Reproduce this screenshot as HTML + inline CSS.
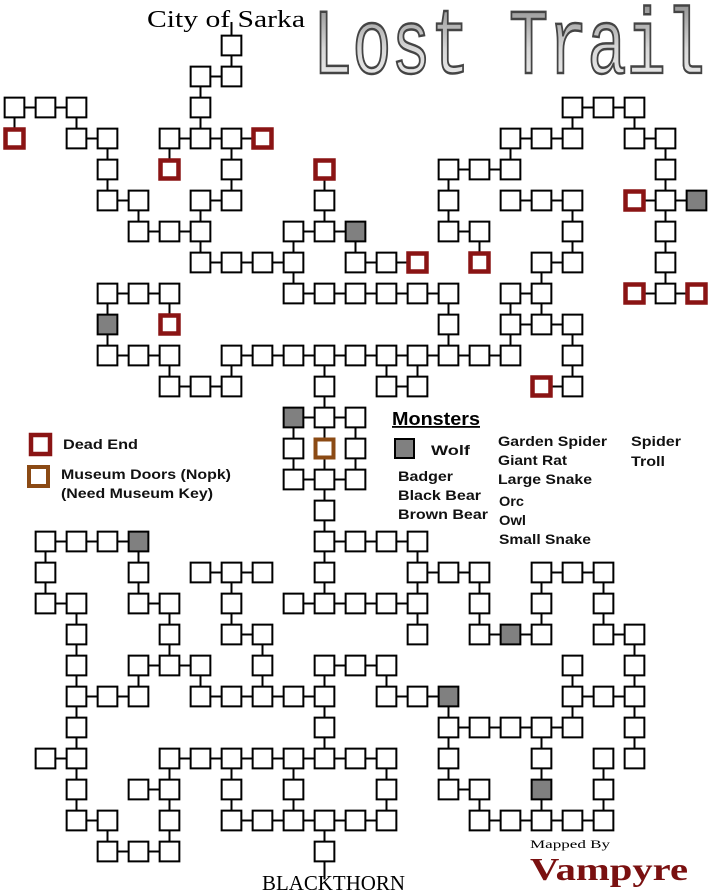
<!DOCTYPE html>
<html><head><meta charset="utf-8"><style>
html,body{margin:0;padding:0;background:#fff;width:711px;height:894px;overflow:hidden}
svg{display:block}
.t{font-family:"Liberation Sans",sans-serif;font-weight:bold;font-size:14px;fill:#111}
</style></head><body>
<svg width="711" height="894" viewBox="0 0 711 894" xmlns="http://www.w3.org/2000/svg">
<defs>
<linearGradient id="lg" x1="0" y1="0" x2="0" y2="1"><stop offset="0" stop-color="#8a8a8a"/><stop offset="0.5" stop-color="#d8d8d8"/><stop offset="1" stop-color="#f4f4f4"/></linearGradient>
</defs>
<rect width="711" height="894" fill="#fff"/>
<g transform="translate(14.5,45.5) scale(31)">
<defs>
<rect id="n" x="-0.318" y="-0.318" width="0.636" height="0.636" fill="#fff" stroke="#000" stroke-width="2" vector-effect="non-scaling-stroke"/>
<rect id="g" x="-0.318" y="-0.318" width="0.636" height="0.636" fill="#808080" stroke="#000" stroke-width="2" vector-effect="non-scaling-stroke"/>
<rect id="d" x="-0.29" y="-0.29" width="0.58" height="0.58" fill="#fff" stroke="#8a1414" stroke-width="4.5" vector-effect="non-scaling-stroke"/>
<rect id="m" x="-0.29" y="-0.29" width="0.58" height="0.58" fill="#fff" stroke="#8b4a14" stroke-width="4" vector-effect="non-scaling-stroke"/>
</defs>
<path fill="none" stroke="#000" stroke-width="2" vector-effect="non-scaling-stroke" d="M6 1H7 M0 2H2 M18 2H20 M2 3H3 M5 3H8 M16 3H18 M20 3H21 M14 4H16 M3 5H4 M6 5H7 M16 5H18 M20 5H22 M4 6H6 M9 6H11 M14 6H15 M6 7H9 M11 7H13 M17 7H18 M3 8H5 M9 8H14 M16 8H17 M20 8H22 M16 9H18 M3 10H5 M7 10H16 M5 11H7 M12 11H13 M17 11H18 M9 12H11 M9 14H11 M1 16H4 M10 16H13 M6 17H8 M13 17H15 M17 17H19 M1 18H2 M4 18H5 M9 18H13 M7 19H8 M15 19H17 M19 19H20 M4 20H6 M10 20H12 M2 21H4 M6 21H10 M12 21H14 M18 21H20 M14 22H18 M1 23H2 M5 23H12 M4 24H5 M14 24H15 M2 25H3 M7 25H12 M15 25H19 M3 26H5
M0 2V3 M1 16V18 M2 2V3 M2 18V25 M3 3V5 M3 8V10 M3 25V26 M4 5V6 M4 16V18 M4 20V21 M5 3V4 M5 8V9 M5 10V11 M5 18V20 M5 23V26 M6 1V3 M6 5V7 M6 20V21 M7 -0.76V1 M7 3V5 M7 10V11 M7 17V19 M7 23V25 M8 19V21 M9 6V8 M9 12V14 M9 23V25 M10 4V6 M10 10V18 M10 20V23 M10 25V26.9 M11 6V7 M11 12V14 M12 10V11 M12 20V21 M12 23V25 M13 10V11 M13 16V19 M14 4V6 M14 8V10 M14 21V24 M15 6V7 M15 17V19 M15 24V25 M16 3V4 M16 8V10 M17 7V9 M17 17V19 M17 22V25 M18 2V3 M18 5V7 M18 9V11 M18 20V22 M19 17V19 M19 23V25 M20 2V3 M20 19V23 M21 3V8"/>
<use href="#n" x="7" y="0"/>
<use href="#n" x="6" y="1"/><use href="#n" x="7" y="1"/>
<use href="#n" x="0" y="2"/><use href="#n" x="1" y="2"/><use href="#n" x="2" y="2"/><use href="#n" x="6" y="2"/><use href="#n" x="18" y="2"/><use href="#n" x="19" y="2"/><use href="#n" x="20" y="2"/>
<use href="#d" x="0" y="3"/><use href="#n" x="2" y="3"/><use href="#n" x="3" y="3"/><use href="#n" x="5" y="3"/><use href="#n" x="6" y="3"/><use href="#n" x="7" y="3"/><use href="#d" x="8" y="3"/><use href="#n" x="16" y="3"/><use href="#n" x="17" y="3"/><use href="#n" x="18" y="3"/><use href="#n" x="20" y="3"/><use href="#n" x="21" y="3"/>
<use href="#n" x="3" y="4"/><use href="#d" x="5" y="4"/><use href="#n" x="7" y="4"/><use href="#d" x="10" y="4"/><use href="#n" x="14" y="4"/><use href="#n" x="15" y="4"/><use href="#n" x="16" y="4"/><use href="#n" x="21" y="4"/>
<use href="#n" x="3" y="5"/><use href="#n" x="4" y="5"/><use href="#n" x="6" y="5"/><use href="#n" x="7" y="5"/><use href="#n" x="10" y="5"/><use href="#n" x="14" y="5"/><use href="#n" x="16" y="5"/><use href="#n" x="17" y="5"/><use href="#n" x="18" y="5"/><use href="#d" x="20" y="5"/><use href="#n" x="21" y="5"/><use href="#g" x="22" y="5"/>
<use href="#n" x="4" y="6"/><use href="#n" x="5" y="6"/><use href="#n" x="6" y="6"/><use href="#n" x="9" y="6"/><use href="#n" x="10" y="6"/><use href="#g" x="11" y="6"/><use href="#n" x="14" y="6"/><use href="#n" x="15" y="6"/><use href="#n" x="18" y="6"/><use href="#n" x="21" y="6"/>
<use href="#n" x="6" y="7"/><use href="#n" x="7" y="7"/><use href="#n" x="8" y="7"/><use href="#n" x="9" y="7"/><use href="#n" x="11" y="7"/><use href="#n" x="12" y="7"/><use href="#d" x="13" y="7"/><use href="#d" x="15" y="7"/><use href="#n" x="17" y="7"/><use href="#n" x="18" y="7"/><use href="#n" x="21" y="7"/>
<use href="#n" x="3" y="8"/><use href="#n" x="4" y="8"/><use href="#n" x="5" y="8"/><use href="#n" x="9" y="8"/><use href="#n" x="10" y="8"/><use href="#n" x="11" y="8"/><use href="#n" x="12" y="8"/><use href="#n" x="13" y="8"/><use href="#n" x="14" y="8"/><use href="#n" x="16" y="8"/><use href="#n" x="17" y="8"/><use href="#d" x="20" y="8"/><use href="#n" x="21" y="8"/><use href="#d" x="22" y="8"/>
<use href="#g" x="3" y="9"/><use href="#d" x="5" y="9"/><use href="#n" x="14" y="9"/><use href="#n" x="16" y="9"/><use href="#n" x="17" y="9"/><use href="#n" x="18" y="9"/>
<use href="#n" x="3" y="10"/><use href="#n" x="4" y="10"/><use href="#n" x="5" y="10"/><use href="#n" x="7" y="10"/><use href="#n" x="8" y="10"/><use href="#n" x="9" y="10"/><use href="#n" x="10" y="10"/><use href="#n" x="11" y="10"/><use href="#n" x="12" y="10"/><use href="#n" x="13" y="10"/><use href="#n" x="14" y="10"/><use href="#n" x="15" y="10"/><use href="#n" x="16" y="10"/><use href="#n" x="18" y="10"/>
<use href="#n" x="5" y="11"/><use href="#n" x="6" y="11"/><use href="#n" x="7" y="11"/><use href="#n" x="10" y="11"/><use href="#n" x="12" y="11"/><use href="#n" x="13" y="11"/><use href="#d" x="17" y="11"/><use href="#n" x="18" y="11"/>
<use href="#g" x="9" y="12"/><use href="#n" x="10" y="12"/><use href="#n" x="11" y="12"/>
<use href="#n" x="9" y="13"/><use href="#m" x="10" y="13"/><use href="#n" x="11" y="13"/>
<use href="#n" x="9" y="14"/><use href="#n" x="10" y="14"/><use href="#n" x="11" y="14"/>
<use href="#n" x="10" y="15"/>
<use href="#n" x="1" y="16"/><use href="#n" x="2" y="16"/><use href="#n" x="3" y="16"/><use href="#g" x="4" y="16"/><use href="#n" x="10" y="16"/><use href="#n" x="11" y="16"/><use href="#n" x="12" y="16"/><use href="#n" x="13" y="16"/>
<use href="#n" x="1" y="17"/><use href="#n" x="4" y="17"/><use href="#n" x="6" y="17"/><use href="#n" x="7" y="17"/><use href="#n" x="8" y="17"/><use href="#n" x="10" y="17"/><use href="#n" x="13" y="17"/><use href="#n" x="14" y="17"/><use href="#n" x="15" y="17"/><use href="#n" x="17" y="17"/><use href="#n" x="18" y="17"/><use href="#n" x="19" y="17"/>
<use href="#n" x="1" y="18"/><use href="#n" x="2" y="18"/><use href="#n" x="4" y="18"/><use href="#n" x="5" y="18"/><use href="#n" x="7" y="18"/><use href="#n" x="9" y="18"/><use href="#n" x="10" y="18"/><use href="#n" x="11" y="18"/><use href="#n" x="12" y="18"/><use href="#n" x="13" y="18"/><use href="#n" x="15" y="18"/><use href="#n" x="17" y="18"/><use href="#n" x="19" y="18"/>
<use href="#n" x="2" y="19"/><use href="#n" x="5" y="19"/><use href="#n" x="7" y="19"/><use href="#n" x="8" y="19"/><use href="#n" x="13" y="19"/><use href="#n" x="15" y="19"/><use href="#g" x="16" y="19"/><use href="#n" x="17" y="19"/><use href="#n" x="19" y="19"/><use href="#n" x="20" y="19"/>
<use href="#n" x="2" y="20"/><use href="#n" x="4" y="20"/><use href="#n" x="5" y="20"/><use href="#n" x="6" y="20"/><use href="#n" x="8" y="20"/><use href="#n" x="10" y="20"/><use href="#n" x="11" y="20"/><use href="#n" x="12" y="20"/><use href="#n" x="18" y="20"/><use href="#n" x="20" y="20"/>
<use href="#n" x="2" y="21"/><use href="#n" x="3" y="21"/><use href="#n" x="4" y="21"/><use href="#n" x="6" y="21"/><use href="#n" x="7" y="21"/><use href="#n" x="8" y="21"/><use href="#n" x="9" y="21"/><use href="#n" x="10" y="21"/><use href="#n" x="12" y="21"/><use href="#n" x="13" y="21"/><use href="#g" x="14" y="21"/><use href="#n" x="18" y="21"/><use href="#n" x="19" y="21"/><use href="#n" x="20" y="21"/>
<use href="#n" x="2" y="22"/><use href="#n" x="10" y="22"/><use href="#n" x="14" y="22"/><use href="#n" x="15" y="22"/><use href="#n" x="16" y="22"/><use href="#n" x="17" y="22"/><use href="#n" x="18" y="22"/><use href="#n" x="20" y="22"/>
<use href="#n" x="1" y="23"/><use href="#n" x="2" y="23"/><use href="#n" x="5" y="23"/><use href="#n" x="6" y="23"/><use href="#n" x="7" y="23"/><use href="#n" x="8" y="23"/><use href="#n" x="9" y="23"/><use href="#n" x="10" y="23"/><use href="#n" x="11" y="23"/><use href="#n" x="12" y="23"/><use href="#n" x="14" y="23"/><use href="#n" x="17" y="23"/><use href="#n" x="19" y="23"/><use href="#n" x="20" y="23"/>
<use href="#n" x="2" y="24"/><use href="#n" x="4" y="24"/><use href="#n" x="5" y="24"/><use href="#n" x="7" y="24"/><use href="#n" x="9" y="24"/><use href="#n" x="12" y="24"/><use href="#n" x="14" y="24"/><use href="#n" x="15" y="24"/><use href="#g" x="17" y="24"/><use href="#n" x="19" y="24"/>
<use href="#n" x="2" y="25"/><use href="#n" x="3" y="25"/><use href="#n" x="5" y="25"/><use href="#n" x="7" y="25"/><use href="#n" x="8" y="25"/><use href="#n" x="9" y="25"/><use href="#n" x="10" y="25"/><use href="#n" x="11" y="25"/><use href="#n" x="12" y="25"/><use href="#n" x="15" y="25"/><use href="#n" x="16" y="25"/><use href="#n" x="17" y="25"/><use href="#n" x="18" y="25"/><use href="#n" x="19" y="25"/>
<use href="#n" x="3" y="26"/><use href="#n" x="4" y="26"/><use href="#n" x="5" y="26"/><use href="#n" x="10" y="26"/>
</g>

<text x="147" y="27" font-family="Liberation Serif, serif" font-size="24" textLength="158" lengthAdjust="spacingAndGlyphs" fill="#000">City of Sarka</text>
<g transform="translate(313,73) scale(1,1.55)">
<text x="0" y="0" font-family="Liberation Mono, monospace" font-size="60" textLength="392" lengthAdjust="spacingAndGlyphs" fill="url(#lg)" stroke="#444" stroke-width="1.6">Lost Trail</text>
</g>

<rect x="31" y="435" width="19" height="19" fill="#fff" stroke="#8a1414" stroke-width="4.5"/>
<text class="t" x="63" y="449" textLength="75" lengthAdjust="spacingAndGlyphs">Dead End</text>
<rect x="29" y="467" width="19" height="19" fill="#fff" stroke="#8b4a14" stroke-width="4"/>
<text class="t" x="61" y="479" textLength="170" lengthAdjust="spacingAndGlyphs">Museum Doors (Nopk)</text>
<text class="t" x="61" y="498" textLength="152" lengthAdjust="spacingAndGlyphs">(Need Museum Key)</text>

<text x="392" y="425" font-family="Liberation Sans, sans-serif" font-weight="bold" font-size="18" textLength="88" lengthAdjust="spacingAndGlyphs" text-decoration="underline">Monsters</text>
<rect x="395" y="439" width="19" height="19" fill="#808080" stroke="#000" stroke-width="2"/>
<text class="t" x="431" y="455" textLength="39" lengthAdjust="spacingAndGlyphs">Wolf</text>
<text class="t" x="398" y="481" textLength="55" lengthAdjust="spacingAndGlyphs">Badger</text>
<text class="t" x="398" y="500" textLength="83" lengthAdjust="spacingAndGlyphs">Black Bear</text>
<text class="t" x="398" y="519" textLength="90" lengthAdjust="spacingAndGlyphs">Brown Bear</text>
<text class="t" x="498" y="446" textLength="109" lengthAdjust="spacingAndGlyphs">Garden Spider</text>
<text class="t" x="498" y="465" textLength="69" lengthAdjust="spacingAndGlyphs">Giant Rat</text>
<text class="t" x="498" y="484" textLength="94" lengthAdjust="spacingAndGlyphs">Large Snake</text>
<text class="t" x="499" y="506" textLength="25" lengthAdjust="spacingAndGlyphs">Orc</text>
<text class="t" x="499" y="525" textLength="27" lengthAdjust="spacingAndGlyphs">Owl</text>
<text class="t" x="499" y="544" textLength="92" lengthAdjust="spacingAndGlyphs">Small Snake</text>
<text class="t" x="631" y="446" textLength="50" lengthAdjust="spacingAndGlyphs">Spider</text>
<text class="t" x="631" y="466" textLength="34" lengthAdjust="spacingAndGlyphs">Troll</text>

<text x="262" y="890" font-family="Liberation Serif, serif" font-size="21" textLength="143" lengthAdjust="spacingAndGlyphs" fill="#000">BLACKTHORN</text>
<text x="530" y="848" font-family="Liberation Serif, serif" font-size="12" textLength="80" lengthAdjust="spacingAndGlyphs" fill="#000">Mapped By</text>
<text x="530" y="880" font-family="Liberation Serif, serif" font-weight="bold" font-size="32" textLength="158" lengthAdjust="spacingAndGlyphs" fill="#7a1010">Vampyre</text>
</svg>
</body></html>
